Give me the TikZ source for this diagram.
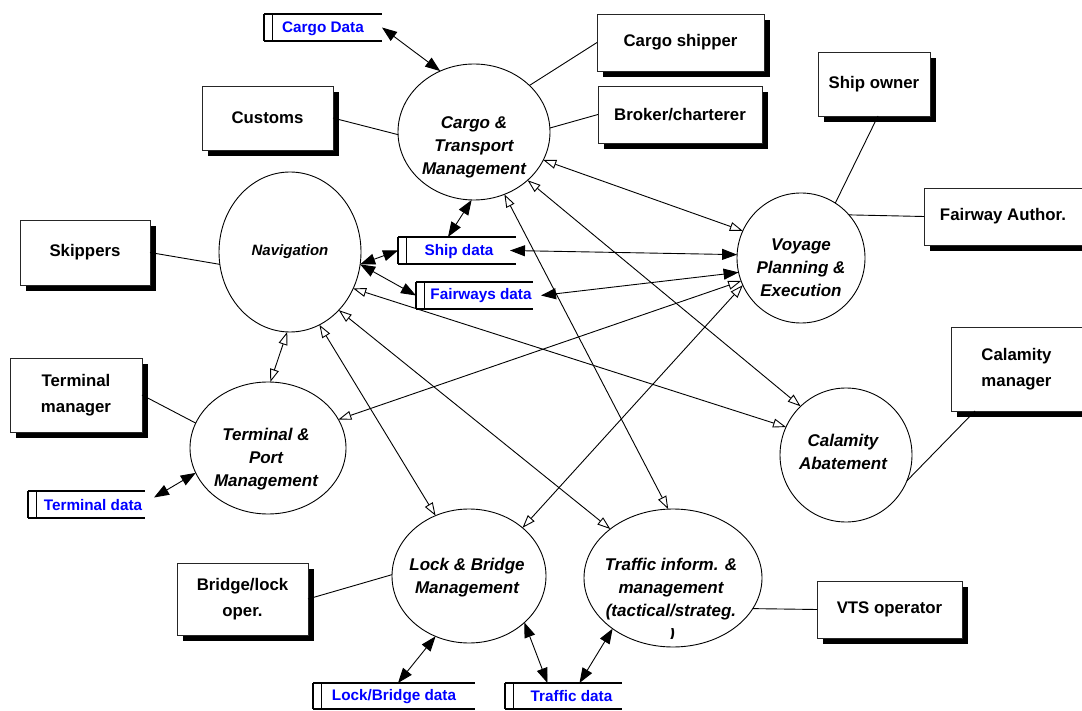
\documentclass[tikz,border=0pt]{standalone}
\usepackage{fontspec}
\setmainfont{Liberation Sans}
\usetikzlibrary{arrows.meta,shapes.geometric,shadows}
\definecolor{storeblue}{RGB}{0,0,255}

\begin{document}
\begin{tikzpicture}[x=1pt,y=-1pt,
  every node/.style={inner sep=0pt, outer sep=0pt},
  process/.style={ellipse, draw, line width=0.9pt},
  ptext/.style={font=\fontsize{17}{23}\selectfont\bfseries\itshape, align=center},
  actor/.style={rectangle, draw=black!85, line width=0.8pt, fill=white,
    font=\fontsize{16.8}{26}\selectfont\bfseries, align=center,
    drop shadow={shadow xshift=6pt, shadow yshift=-6pt, fill=black, opacity=1}},
  store/.style={rectangle},
  stext/.style={font=\fontsize{15.3}{18}\selectfont\bfseries, text=storeblue},
  link/.style={line width=0.9pt},
  dataflow/.style={line width=0.9pt,
    {Triangle[length=15pt,width=11pt]}-{Triangle[length=15pt,width=11pt]}},
  ctrlflow/.style={line width=0.9pt,
    {Triangle[open,length=13pt,width=9pt,fill=white]}-{Triangle[open,length=13pt,width=9pt,fill=white]}},
]
\clip (0,0) rectangle (1082,711);

% processes
\node[process, minimum width=152pt, minimum height=136pt] (cargo) at (474,132) {};
\node[process, minimum width=142pt, minimum height=160pt] (nav) at (290,252) {};
\node[process, minimum width=128pt, minimum height=130pt] (voyage) at (801,258) {};
\node[process, minimum width=156pt, minimum height=132pt] (terminal) at (268,448) {};
\node[process, minimum width=132pt, minimum height=134pt] (calamity) at (846,455) {};
\node[process, minimum width=154pt, minimum height=134pt] (lock) at (469,576) {};
\node[process, minimum width=178pt, minimum height=138pt] (traffic) at (673,578) {};

\node[ptext] (cargotext) at (474,147) {Cargo \&\\Transport\\Management};
\node[ptext, font=\fontsize{15}{20}\selectfont\bfseries\itshape] (navtext) at (290,252) {Navigation};
\node[ptext] (voyagetext) at (801,268) {Voyage\\Planning \&\\Execution};
\node[ptext] (termtext) at (266,459) {Terminal \&\\Port\\Management};
\node[ptext] (calamtext) at (843,452) {Calamity\\Abatement};
\node[ptext] (locktext) at (467,578) {Lock \& Bridge\\Management};
\node[ptext] (traffictext) at (671,589) {Traffic inform. \&\\management\\(tactical/strateg.};
\begin{scope}
  \clip (650,628) rectangle (700,638);
  \node[ptext] (trafficparen) at (672,635) {)};
\end{scope}

% external actors
\node[actor, minimum width=131pt, minimum height=64pt] (customs) at (267.5,118) {Customs};
\node[actor, minimum width=167pt, minimum height=57pt] (shipper) at (680.5,42.5) {Cargo shipper};
\node[actor, minimum width=164pt, minimum height=57pt] (broker) at (680,114.5) {Broker/charterer};
\node[actor, minimum width=112pt, minimum height=64pt] (shipowner) at (874,84) {Ship owner};
\node[actor, minimum width=158pt, minimum height=57pt] (fairauth) at (1003,216.5) {Fairway Author.};
\node[actor, minimum width=130pt, minimum height=65pt] (skippers) at (85,252.5) {Skippers};
\node[actor, minimum width=132pt, minimum height=74pt] (termmgr) at (76,395) {Terminal\\manager};
\node[actor, minimum width=131pt, minimum height=84pt] (calmgr) at (1016.5,369) {Calamity\\manager};
\node[actor, minimum width=131pt, minimum height=72pt] (bridgeop) at (242.5,599) {Bridge/lock\\oper.};
\node[actor, minimum width=145pt, minimum height=57pt] (vts) at (889.5,609.5) {VTS operator};

% data stores
\node[store, minimum width=118pt, minimum height=27pt] (cargodata) at (323,27.5) {};
\node[store, minimum width=118pt, minimum height=27pt] (shipdata) at (457,250.5) {};
\node[store, minimum width=117pt, minimum height=27pt] (fairways) at (474.5,295.5) {};
\node[store, minimum width=117pt, minimum height=27pt] (termdata) at (86.5,504.5) {};
\node[store, minimum width=162pt, minimum height=26pt] (lockdata) at (394,696) {};
\node[store, minimum width=117pt, minimum height=26pt] (trafficdata) at (563.5,696) {};
\foreach \s in {cargodata,shipdata,fairways,termdata,lockdata,trafficdata}{
  \draw[line width=2.2pt] (\s.north west) -- (\s.north east) (\s.south west) -- (\s.south east);
  \draw[line width=1.8pt] (\s.north west) -- (\s.south west);
  \draw[line width=1.4pt] ([xshift=8.5pt]\s.north west) -- ([xshift=8.5pt]\s.south west);
}
\node[stext] (cargodatatext) at (323,29) {Cargo Data};
\node[stext] (shipdatatext) at (459,252) {Ship data};
\node[stext] (fairwaystext) at (481,296) {Fairways data};
\node[stext] (termdatatext) at (93,505) {Terminal data};
\node[stext] (lockdatatext) at (394,697) {Lock/Bridge data};
\node[stext] (trafficdatatext) at (571.5,696) {Traffic data};

% actor associations
\draw[link] (customs.east) -- (cargo.182);
\draw[link] (shipper.west) -- (cargo.40);
\draw[link] (broker.west) -- (cargo.3);
\draw[link] ([xshift=4pt]shipowner.south) -- (voyage.58);
\draw[link] (fairauth.west) -- (voyage.42);
\draw[link] (skippers.east) -- (nav.190);
\draw[link] (termmgr.east) -- (terminal.161);
\draw[link] ([xshift=24pt]calmgr.south west) -- (calamity.-23);
\draw[link] (bridgeop.east) -- (lock.179);
\draw[link] (vts.west) -- (traffic.-21);

% data flows with stores
\draw[dataflow] (cargodata.east) -- (cargo.119.5);
\draw[dataflow] (cargo.268) -- ([xshift=-9pt]shipdata.north);
\draw[dataflow] (nav.-10) -- (shipdata.west);
\draw[dataflow] (nav.-10) -- (fairways.west);
\draw[dataflow] ([xshift=-6pt]shipdata.east) -- (voyage.177);
\draw[dataflow] ([xshift=8pt]fairways.east) -- (voyage.193);
\draw[dataflow] ([xshift=9pt,yshift=7pt]termdata.east) -- (terminal.199);
\draw[dataflow] (lock.241) -- ([xshift=4pt]lockdata.north);
\draw[dataflow] (lock.-40) -- ([xshift=-16pt]trafficdata.north);
\draw[dataflow] (traffic.220) -- ([xshift=16pt]trafficdata.north);

% flows between processes
\draw[ctrlflow] (cargo.-22) -- (voyage.155);
\draw[ctrlflow] (cargo.-42) -- (calamity.133);
\draw[ctrlflow] (cargo.-64) -- (traffic.94);
\draw[ctrlflow] (nav.-30) -- (calamity.155);
\draw[ctrlflow] (nav.-50) -- (traffic.142);
\draw[ctrlflow] (nav.-68) -- (lock.119);
\draw[ctrlflow] (nav.-92) -- (terminal.88);
\draw[ctrlflow] (voyage.201) -- (terminal.22);
\draw[ctrlflow] (voyage.205) -- (lock.42);
\end{tikzpicture}
\end{document}
